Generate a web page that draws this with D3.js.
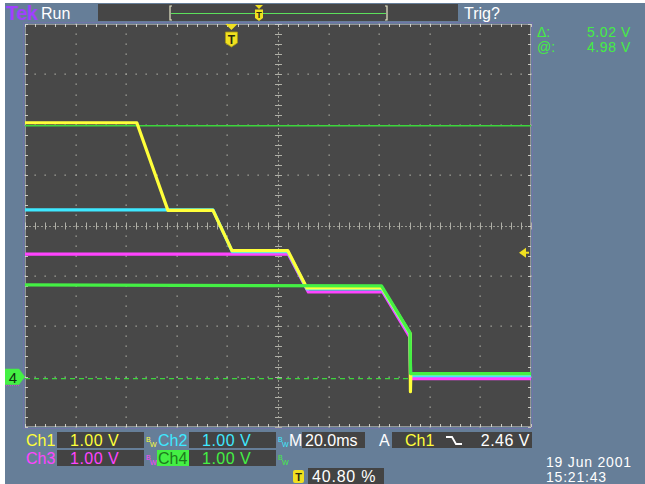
<!DOCTYPE html>
<html>
<head>
<meta charset="utf-8">
<script src="https://cdn.jsdelivr.net/npm/d3@7"></script>
<style>
  html, body { margin: 0; padding: 0; background: #ffffff; }
  svg { display: block; }
  text { font-family: "Liberation Sans", Arial, sans-serif; }
</style>
</head>
<body>
<script>
// Acquisition: 20 ms/div, 1 V/div on all channels, trigger at 40.80 % of record.
// Each trace is a list of [time (ms), volts] breakpoints.
const ch1 = [[-81.6, 5.04], [-37.4, 5.04], [-25.1, 3.30], [-7.3, 3.30], [0.2, 2.50], [22.3, 2.50],
             [29.8, 1.76], [59.5, 1.76], [70.6, 0.86], [70.75, -0.30], [70.9, 0.06], [118.4, 0.06]];
const ch2 = [[-81.6, 3.31], [-7.3, 3.31], [0.3, 2.48], [22.3, 2.48], [29.9, 1.74], [59.5, 1.74],
             [70.6, 0.84], [70.8, 0.02], [118.4, 0.02]];
const ch3 = [[-81.6, 2.43], [22.5, 2.43], [30.4, 1.68], [59.8, 1.68], [70.6, 0.78], [70.8, -0.04], [118.4, -0.04]];
const ch4 = [[-81.6, 1.82], [59.3, 1.80], [70.6, 0.87], [70.8, 0.06], [118.4, 0.06]];

const timeWindow = [-81.6, 118.4];   // ms across 10 divisions
const voltWindow = [-1, 7];          // V across 8 divisions
const cursorLevels = [4.98, -0.04];  // horizontal bar cursors (V)
const triggerLevel = 2.46;

const channelRows = [
  { label: "Ch1", scale: "1.00 V", color: "#ffff3a" },
  { label: "Ch2", scale: "1.00 V", color: "#3ee8ff" },
  { label: "Ch3", scale: "1.00 V", color: "#ff44ff" },
  { label: "Ch4", scale: "1.00 V", color: "#44f044" }
];
const timebase = "20.0ms";
const triggerText = { source: "Ch1", level: "2.46 V" };
const triggerPos = "40.80 %";
const cursorReadout = [["\u0394:", "5.02 V"], ["@:", "4.98 V"]];
const stamp = ["19 Jun 2001", "15:21:43"];

const W = 645, H = 484;
const svg = d3.select("body").append("svg").attr("width", W).attr("height", H);

// screen background
svg.append("rect").attr("x", 5).attr("y", 3).attr("width", W - 5).attr("height", H - 3).attr("fill", "#667e98");

const L = 25, R = 531, T = 24, B = 427;
const x = d3.scaleLinear().domain(timeWindow).range([L, R]);
const y = d3.scaleLinear().domain(voltWindow).range([B, T]);

// graticule
svg.append("rect").attr("x", L - 1.5).attr("y", T - 1.5).attr("width", R - L + 3).attr("height", B - T + 3)
  .attr("fill", "none").attr("stroke", "#7074a8").attr("stroke-width", 1);
svg.append("rect").attr("x", L).attr("y", T).attr("width", R - L).attr("height", B - T).attr("fill", "#484848");

const g = svg.append("g");
const nx = 10, ny = 8, sub = 5;
const dx = (R - L) / nx, dy = (B - T) / ny;
const dots = [];
for (let i = 1; i < nx; i++) {
  if (i === 5) continue;
  for (let j = 0; j <= ny * sub; j++) dots.push([L + i * dx, T + j * dy / sub]);
}
for (let j = 1; j < ny; j++) {
  if (j === 4) continue;
  for (let i = 0; i <= nx * sub; i++) dots.push([L + i * dx / sub, T + j * dy]);
}
g.selectAll("rect.dot").data(dots).join("rect").attr("class", "dot")
  .attr("x", d => Math.round(d[0]) - 0.5).attr("y", d => Math.round(d[1]) - 0.5)
  .attr("width", 1.3).attr("height", 1.3).attr("fill", "#a8a8a0");

// center crosshair with minor ticks
const cx = L + 5 * dx, cy = T + 4 * dy;
g.append("line").attr("x1", Math.round(cx) + 0.5).attr("x2", Math.round(cx) + 0.5).attr("y1", T).attr("y2", B)
  .attr("stroke", "#9a9a92").attr("stroke-width", 1).attr("stroke-dasharray", "2,2");
g.append("line").attr("y1", Math.round(cy) + 0.5).attr("y2", Math.round(cy) + 0.5).attr("x1", L).attr("x2", R)
  .attr("stroke", "#9a9a92").attr("stroke-width", 1).attr("stroke-dasharray", "2,2");
for (let j = 0; j <= ny * sub; j++) {
  const yy = Math.round(T + j * dy / sub) + 0.5;
  g.append("line").attr("x1", cx - 3).attr("x2", cx + 4).attr("y1", yy).attr("y2", yy).attr("stroke", "#b0b0a8");
  g.append("line").attr("x1", L).attr("x2", L + 3).attr("y1", yy).attr("y2", yy).attr("stroke", "#c8c8c0");
  g.append("line").attr("x1", R - 3).attr("x2", R).attr("y1", yy).attr("y2", yy).attr("stroke", "#c8c8c0");
}
for (let i = 0; i <= nx * sub; i++) {
  const xx = Math.round(L + i * dx / sub) + 0.5;
  g.append("line").attr("y1", cy - 3).attr("y2", cy + 4).attr("x1", xx).attr("x2", xx).attr("stroke", "#b0b0a8");
  g.append("line").attr("y1", T).attr("y2", T + 3).attr("x1", xx).attr("x2", xx).attr("stroke", "#c8c8c0");
  g.append("line").attr("y1", B - 3).attr("y2", B).attr("x1", xx).attr("x2", xx).attr("stroke", "#c8c8c0");
}
// dotted border
g.append("rect").attr("x", L + 0.5).attr("y", T + 0.5).attr("width", R - L - 1).attr("height", B - T - 1)
  .attr("fill", "none").attr("stroke", "#e0e0e0").attr("stroke-width", 1).attr("stroke-dasharray", "1,1");

// cursors
svg.append("line").attr("x1", L).attr("x2", R).attr("y1", y(cursorLevels[0])).attr("y2", y(cursorLevels[0]))
  .attr("stroke", "#3cd63c").attr("stroke-width", 1.3);
svg.append("line").attr("x1", L).attr("x2", R).attr("y1", y(cursorLevels[1])).attr("y2", y(cursorLevels[1]))
  .attr("stroke", "#3cd63c").attr("stroke-width", 1.3).attr("stroke-dasharray", "5,4");

// traces
const line = d3.line().x(d => x(d[0])).y(d => y(d[1]));
const traces = [
  { data: ch3, color: channelRows[2].color },
  { data: ch2, color: channelRows[1].color },
  { data: ch1, color: channelRows[0].color },
  { data: ch4, color: channelRows[3].color }
];
svg.append("g").selectAll("path").data(traces).join("path")
  .attr("d", d => line(d.data)).attr("fill", "none")
  .attr("stroke", d => d.color).attr("stroke-width", 3.2).attr("stroke-linejoin", "round");

// trigger position marker on graticule
const tx = x(0);
svg.append("path").attr("d", `M${tx - 6},${T} L${tx + 6},${T} L${tx},${T + 6} Z`).attr("fill", "#f0e020");
svg.append("path").attr("d", `M${tx - 6},${T + 8} L${tx + 6},${T + 8} L${tx + 6},${T + 19} L${tx},${T + 23} L${tx - 6},${T + 19} Z`)
  .attr("fill", "#f0e020").attr("stroke", "#a89a10").attr("stroke-width", 0.8);
svg.append("text").attr("x", tx).attr("y", T + 20).attr("text-anchor", "middle").attr("font-size", 12)
  .attr("font-weight", "bold").attr("fill", "#2a2a10").text("T");

// trigger level arrow on right edge
const ty = y(triggerLevel);
svg.append("path").attr("d", `M${R - 12},${ty} L${R - 5},${ty - 5} L${R - 5},${ty + 5} Z`).attr("fill", "#f0e020");
svg.append("line").attr("x1", R - 6).attr("x2", R - 2).attr("y1", ty).attr("y2", ty).attr("stroke", "#f0e020").attr("stroke-width", 2);

// ground marker for Ch4
const gy = y(0);
svg.append("path").attr("d", `M5,${gy - 8} L19,${gy - 8} L25,${gy} L19,${gy + 8} L5,${gy + 8} Z`).attr("fill", "#44f044");
svg.append("line").attr("x1", 6).attr("x2", 20).attr("y1", gy + 9).attr("y2", gy + 9).attr("stroke", "#cc44cc").attr("stroke-dasharray", "1,1");
svg.append("text").attr("x", 13).attr("y", gy + 6).attr("text-anchor", "middle").attr("font-size", 15)
  .attr("fill", "#103010").text("4");

// top status bar
svg.append("text").attr("x", 6).attr("y", 20).attr("font-size", 20).attr("font-weight", "bold")
  .attr("letter-spacing", -0.5).attr("fill", "#a040ff").text("Tek");
svg.append("text").attr("x", 41).attr("y", 19).attr("font-size", 16).attr("fill", "#ffffff").text("Run");
svg.append("rect").attr("x", 98).attr("y", 4).attr("width", 360).attr("height", 17).attr("fill", "#464646");
svg.append("line").attr("x1", 171).attr("x2", 386).attr("y1", 13.5).attr("y2", 13.5).attr("stroke", "#5ce05c").attr("stroke-width", 1);
svg.append("path").attr("d", "M172,6 L170,6 L170,20 L172,20").attr("fill", "none").attr("stroke", "#e8e8c8").attr("stroke-width", 1.2);
svg.append("path").attr("d", "M385,6 L387,6 L387,20 L385,20").attr("fill", "none").attr("stroke", "#e8e8c8").attr("stroke-width", 1.2);
const rx = 259;
svg.append("path").attr("d", `M${rx - 4},5 L${rx + 4},5 L${rx},9 Z`).attr("fill", "#f0e020");
svg.append("path").attr("d", `M${rx - 4},9.5 L${rx + 4},9.5 L${rx + 4},18 L${rx},21 L${rx - 4},18 Z`).attr("fill", "#f0e020");
svg.append("text").attr("x", rx).attr("y", 18).attr("text-anchor", "middle").attr("font-size", 9).attr("font-weight", "bold")
  .attr("fill", "#2a2a10").text("T");
svg.append("text").attr("x", 464).attr("y", 19).attr("font-size", 16).attr("fill", "#ffffff").text("Trig?");

// cursor readout
cursorReadout.forEach((r, i) => {
  svg.append("text").attr("x", 537).attr("y", 37 + i * 15).attr("font-size", 14).attr("fill", "#44ee44").text(r[0]);
  svg.append("text").attr("x", 631).attr("y", 37 + i * 15).attr("text-anchor", "end").attr("font-size", 14)
    .attr("fill", "#44ee44").attr("letter-spacing", 0.6).text(r[1]);
});

// channel readouts
function bw(xp, yp, color) {
  svg.append("text").attr("x", xp).attr("y", yp - 4).attr("font-size", 7).attr("fill", color).text("B");
  svg.append("text").attr("x", xp + 4).attr("y", yp + 1).attr("font-size", 7).attr("fill", color).text("W");
}
const rowY = [432, 450];
channelRows.forEach((c, i) => {
  const row = i < 2 ? 0 : 1;
  const col = i % 2;
  const y0 = rowY[row];
  const lx = col === 0 ? 25 : 157;
  if (c.label === "Ch4") {
    svg.append("rect").attr("x", lx).attr("y", y0).attr("width", 32).attr("height", 16).attr("fill", "#44f044");
  }
  svg.append("text").attr("x", lx + 1).attr("y", y0 + 14).attr("font-size", 16)
    .attr("fill", c.label === "Ch4" ? "#1c7a1c" : c.color).text(c.label);
  svg.append("rect").attr("x", lx + 32).attr("y", y0).attr("width", 87).attr("height", 16).attr("fill", "#434343");
  svg.append("text").attr("x", lx + 45).attr("y", y0 + 14).attr("font-size", 16).attr("letter-spacing", 0.5)
    .attr("fill", c.color).text(c.scale);
  bw(lx + 121, y0 + 14, c.color);
});
// timebase
svg.append("text").attr("x", 289).attr("y", 446).attr("font-size", 16).attr("fill", "#ffffff").text("M");
svg.append("rect").attr("x", 302).attr("y", 432).attr("width", 63).attr("height", 16).attr("fill", "#434343");
svg.append("text").attr("x", 305).attr("y", 446).attr("font-size", 16).attr("fill", "#ffffff").text(timebase);
// trigger
svg.append("text").attr("x", 379).attr("y", 446).attr("font-size", 16).attr("fill", "#ffffff").text("A");
svg.append("rect").attr("x", 392).attr("y", 432).attr("width", 140).attr("height", 16).attr("fill", "#434343");
svg.append("text").attr("x", 405).attr("y", 446).attr("font-size", 16).attr("fill", channelRows[0].color).text(triggerText.source);
svg.append("path").attr("d", "M446,437 L452,437 L456,444 L462,444").attr("fill", "none").attr("stroke", "#ffffff").attr("stroke-width", 1.8);
svg.append("text").attr("x", 530).attr("y", 446).attr("text-anchor", "end").attr("font-size", 16).attr("letter-spacing", 0.5)
  .attr("fill", "#ffffff").text(triggerText.level);
// trigger position
svg.append("rect").attr("x", 293).attr("y", 470).attr("width", 11).attr("height", 13).attr("rx", 2).attr("fill", "#f0e020");
svg.append("text").attr("x", 298.5).attr("y", 481).attr("text-anchor", "middle").attr("font-size", 11).attr("font-weight", "bold")
  .attr("fill", "#2a2a10").text("T");
svg.append("rect").attr("x", 308).attr("y", 468).attr("width", 76).attr("height", 16).attr("fill", "#434343");
svg.append("text").attr("x", 312).attr("y", 482).attr("font-size", 16).attr("letter-spacing", 0.8).attr("fill", "#ffffff").text(triggerPos);
// date and time
svg.append("text").attr("x", 546).attr("y", 467).attr("font-size", 14).attr("letter-spacing", 0.8).attr("fill", "#ffffff").text(stamp[0]);
svg.append("text").attr("x", 546).attr("y", 482).attr("font-size", 14).attr("letter-spacing", 0.8).attr("fill", "#ffffff").text(stamp[1]);
</script>
</body>
</html>
